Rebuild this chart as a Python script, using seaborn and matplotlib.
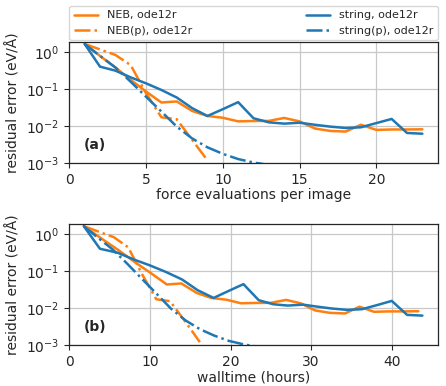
import numpy as np
import pandas as pd
import matplotlib
matplotlib.use("Agg")
import matplotlib.pyplot as plt
import seaborn as sns

# ---- data ----
neb_evals = list(range(1, 24))
neb_err = [1.68, 0.8, 0.39, 0.18, 0.087, 0.044, 0.047, 0.026, 0.019, 0.017,
           0.0136, 0.0139, 0.014, 0.0168, 0.0136, 0.0087, 0.0075, 0.0072,
           0.011, 0.0080, 0.0082, 0.0082, 0.0083]
neb_hours = [1.8, 3.9, 6.0, 8.1, 10.2, 12.1, 13.9, 15.8, 17.6, 19.5, 21.3,
             23.1, 25.0, 26.9, 28.7, 30.5, 32.3, 34.2, 36.0, 37.8, 39.7,
             41.5, 43.3]

string_evals = list(range(1, 24))
string_err = [1.68, 0.41, 0.32, 0.21, 0.145, 0.096, 0.06, 0.031, 0.019,
              0.029, 0.045, 0.0165, 0.0128, 0.0118, 0.0125, 0.011, 0.0098,
              0.0090, 0.0094, 0.0122, 0.0158, 0.0066, 0.0063]
string_hours = [1.8, 3.8, 6.0, 8.0, 10.0, 12.0, 14.0, 15.9, 17.9, 19.7, 21.6,
                23.5, 25.3, 27.1, 29.0, 30.8, 32.6, 34.5, 36.3, 38.2, 40.0,
                41.9, 43.8]

nebp_evals = [1, 2, 3, 4, 5, 6, 7, 8, 9]
nebp_err = [1.68, 1.2, 0.85, 0.45, 0.078, 0.0175, 0.0155, 0.0043, 0.0012]
nebp_hours = [1.8, 3.6, 5.5, 7.3, 9.1, 10.8, 12.5, 14.4, 16.2]

stringp_evals = [1, 2, 3, 4, 5, 6, 7, 8, 9, 10, 11, 12, 13]
stringp_err = [1.68, 0.8, 0.39, 0.16, 0.063, 0.025, 0.0098, 0.0047, 0.0027,
               0.0018, 0.0013, 0.00105, 0.0009]
stringp_hours = [1.8, 3.6, 5.4, 7.2, 9.0, 10.8, 12.6, 14.4, 16.2, 18.0, 19.8,
                 21.6, 23.4]

series = [
    ("NEB, ode12r", neb_evals, neb_hours, neb_err, "tab:orange", "-"),
    ("NEB(p), ode12r", nebp_evals, nebp_hours, nebp_err, "tab:orange", "-."),
    ("string, ode12r", string_evals, string_hours, string_err, "tab:blue", "-"),
    ("string(p), ode12r", stringp_evals, stringp_hours, stringp_err, "tab:blue", "-."),
]

sns.set_style("ticks")
plt.rcParams["font.family"] = ["DejaVu Sans"]

fig = plt.figure(figsize=(4.46, 3.86), dpi=100)
ax1 = fig.add_axes([0.1554, 0.577, 0.826, 0.315])
ax2 = fig.add_axes([0.1554, 0.106, 0.826, 0.314])

for label, ev, hrs, err, col, ls in series:
    df = pd.DataFrame({"evals": ev, "hours": hrs, "err": err})
    sns.lineplot(data=df, x="evals", y="err", ax=ax1, color=col, linestyle=ls,
                 linewidth=1.8, label=label, legend=False)
    sns.lineplot(data=df, x="hours", y="err", ax=ax2, color=col, linestyle=ls,
                 linewidth=1.8, legend=False)

for ax, xl, lim, tag in [(ax1, "force evaluations per image", 24, "(a)"),
                         (ax2, "walltime (hours)", 45.7, "(b)")]:
    ax.set_yscale("log")
    ax.set_ylim(1e-3, 1.94)
    ax.set_xlim(0, lim)
    ax.minorticks_off()
    ax.set_yticks([1e-3, 1e-2, 1e-1, 1e0])
    ax.grid(True, color="#c8c8c8", linewidth=0.9)
    ax.set_xlabel(xl, fontsize=10, labelpad=1)
    ax.set_ylabel("residual error (eV/Å)", fontsize=10)
    ax.tick_params(labelsize=10, length=3.5)
    ax.text(0.04, 0.15, tag, transform=ax.transAxes, fontsize=10,
            fontweight="bold", va="center")
    for s in ax.spines.values():
        s.set_linewidth(0.9)

ax2.set_xticks([0, 10, 20, 30, 40])
ax1.set_xticks([0, 5, 10, 15, 20])

ax1.legend(loc="lower left", bbox_to_anchor=(0, 1.01, 1, 0.2), mode="expand",
           ncol=2, fontsize=8, frameon=True, borderaxespad=0.0,
           handlelength=2.2)

fig.savefig("out.png", dpi=100)
